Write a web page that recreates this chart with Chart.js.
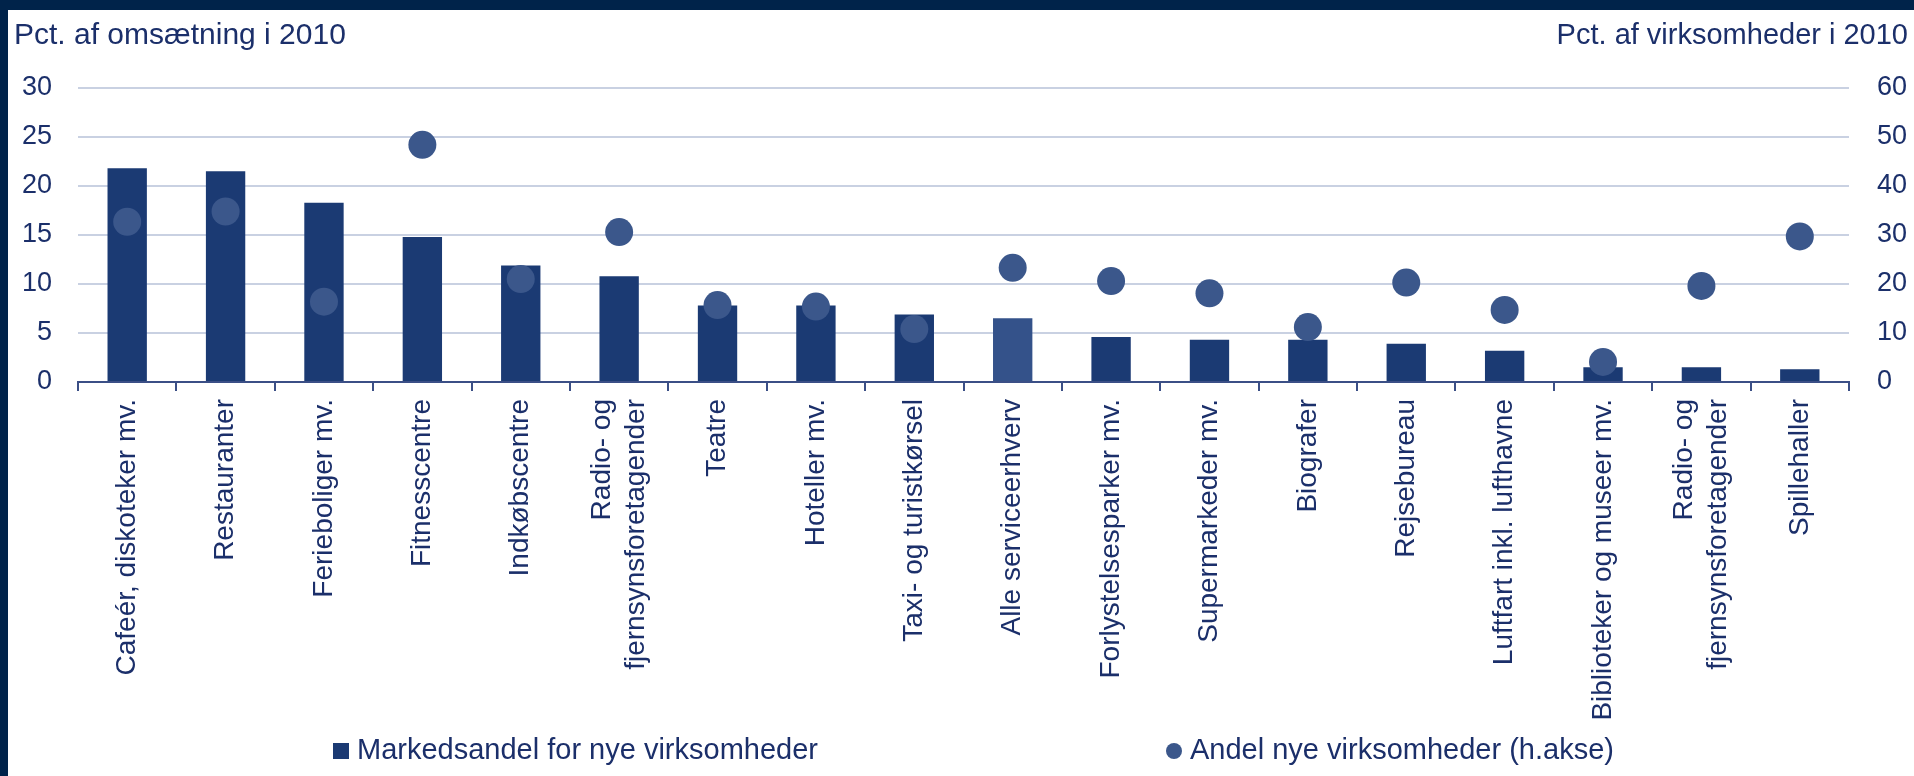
<!DOCTYPE html>
<html>
<head>
<meta charset="utf-8">
<script src="https://cdn.jsdelivr.net/npm/chart.js@4/dist/chart.umd.min.js"></script>
<style>
  html, body { margin: 0; padding: 0; background: #00234a; }
  #wrap { position: absolute; left: 8px; top: 10px; width: 1906px; height: 766px; background: #fff; }
</style>
</head>
<body>
<div id="wrap"><canvas id="chart" width="1906" height="766"></canvas></div>
<script>
const categories = [
  'Cafeér, diskoteker mv.',
  'Restauranter',
  'Ferieboliger mv.',
  'Fitnesscentre',
  'Indkøbscentre',
  ['Radio- og', 'fjernsynsforetagender'],
  'Teatre',
  'Hoteller mv.',
  'Taxi- og turistkørsel',
  'Alle serviceerhverv',
  'Forlystelsesparker mv.',
  'Supermarkeder mv.',
  'Biografer',
  'Rejsebureau',
  'Luftfart inkl. lufthavne',
  'Biblioteker og museer mv.',
  ['Radio- og', 'fjernsynsforetagender'],
  'Spillehaller'
];

// Markedsandel for nye virksomheder (venstre akse, pct. af omsætning)
const marketShare = [21.8, 21.5, 18.3, 14.8, 11.9, 10.8, 7.8, 7.8, 6.9, 6.5, 4.6, 4.3, 4.3, 3.9, 3.2, 1.5, 1.5, 1.3];

// Andel nye virksomheder (højre akse, pct. af virksomheder)
const newShare = [32.7, 34.8, 16.4, 48.4, 21.0, 30.6, 15.7, 15.4, 10.8, 23.3, 20.6, 18.1, 11.2, 20.3, 14.7, 4.1, 19.6, 29.7];

const leftTicks = [0, 5, 10, 15, 20, 25, 30];
const rightTicks = [0, 10, 20, 30, 40, 50, 60];

const textColor = '#1b2f6a';
const barColor = '#1b3a73';
const totalColor = '#34528a';
const dotColor = '#3b578b';
const gridColor = '#c9d1e2';
const axisColor = '#3b4f86';
const fontFamily = '"Liberation Sans", Arial, sans-serif';
const xFontSize = 28;

const barColors = categories.map(c => c === 'Alle serviceerhverv' ? totalColor : barColor);

// center two-line category labels on their tick
const centerLabels = {
  id: 'centerLabels',
  beforeDraw(chart) {
    const items = chart.scales.x.getLabelItems();
    items.forEach(item => {
      if (Array.isArray(item.label) && !item.centered) {
        item.options.translation[0] -= (item.label.length - 1) * xFontSize * 1.2 / 2;
        item.centered = true;
      }
    });
  }
};

const titlePlugin = {
  id: 'titles',
  afterDraw(chart) {
    const ctx = chart.ctx;
    ctx.save();
    ctx.fillStyle = textColor;
    ctx.textBaseline = 'alphabetic';
    ctx.textAlign = 'left';
    ctx.font = '30px ' + fontFamily;
    ctx.fillText('Pct. af omsætning i 2010', 6, 34);
    ctx.textAlign = 'right';
    ctx.font = '29px ' + fontFamily;
    ctx.fillText('Pct. af virksomheder i 2010', 1900, 34);

    // legend
    const ds = chart.data.datasets;
    ctx.textAlign = 'left';
    ctx.font = '29px ' + fontFamily;
    ctx.fillStyle = barColor;
    ctx.fillRect(325, 733, 16, 16);
    ctx.fillStyle = textColor;
    ctx.fillText(ds[1].label, 349, 749);
    ctx.fillStyle = dotColor;
    ctx.beginPath();
    ctx.arc(1166, 741, 8, 0, Math.PI * 2);
    ctx.fill();
    ctx.fillStyle = textColor;
    ctx.fillText(ds[0].label, 1182, 749);
    ctx.restore();
  }
};

new Chart(document.getElementById('chart'), {
  type: 'bar',
  data: {
    labels: categories,
    datasets: [
      {
        type: 'line',
        label: 'Andel nye virksomheder (h.akse)',
        data: newShare,
        yAxisID: 'y1',
        showLine: false,
        pointRadius: 14,
        pointHoverRadius: 14,
        pointBackgroundColor: dotColor,
        pointBorderWidth: 0,
        order: 0
      },
      {
        type: 'bar',
        label: 'Markedsandel for nye virksomheder',
        data: marketShare,
        yAxisID: 'y',
        backgroundColor: barColors,
        barPercentage: 0.4,
        categoryPercentage: 1,
        order: 1
      }
    ]
  },
  options: {
    responsive: false,
    animation: false,
    layout: { padding: { top: 78, bottom: 36, left: 0, right: 0 } },
    plugins: {
      legend: { display: false },
      tooltip: { enabled: false }
    },
    scales: {
      x: {
        offset: true,
        grid: { drawOnChartArea: false, drawTicks: true, tickLength: 9, color: axisColor, lineWidth: 2, offset: true },
        border: { display: true, color: axisColor, width: 2 },
        ticks: {
          color: textColor,
          font: { family: fontFamily, size: xFontSize },
          minRotation: 90,
          maxRotation: 90,
          autoSkip: false,
          padding: 8
        },
        afterFit(scale) { scale.height = 358; }
      },
      y: {
        position: 'left',
        min: 0,
        max: 30,
        afterBuildTicks(scale) { scale.ticks = leftTicks.map(v => ({ value: v })); },
        grid: { color: gridColor, lineWidth: 2, drawTicks: false },
        border: { display: false },
        ticks: { color: textColor, font: { family: fontFamily, size: 27 }, padding: 26 },
        afterFit(scale) { scale.width = 70; }
      },
      y1: {
        position: 'right',
        min: 0,
        max: 60,
        afterBuildTicks(scale) { scale.ticks = rightTicks.map(v => ({ value: v })); },
        grid: { drawOnChartArea: false, drawTicks: false },
        border: { display: false },
        ticks: { color: textColor, font: { family: fontFamily, size: 27 }, padding: 28 },
        afterFit(scale) { scale.width = 65; }
      }
    }
  },
  plugins: [centerLabels, titlePlugin]
});
</script>
</body>
</html>
